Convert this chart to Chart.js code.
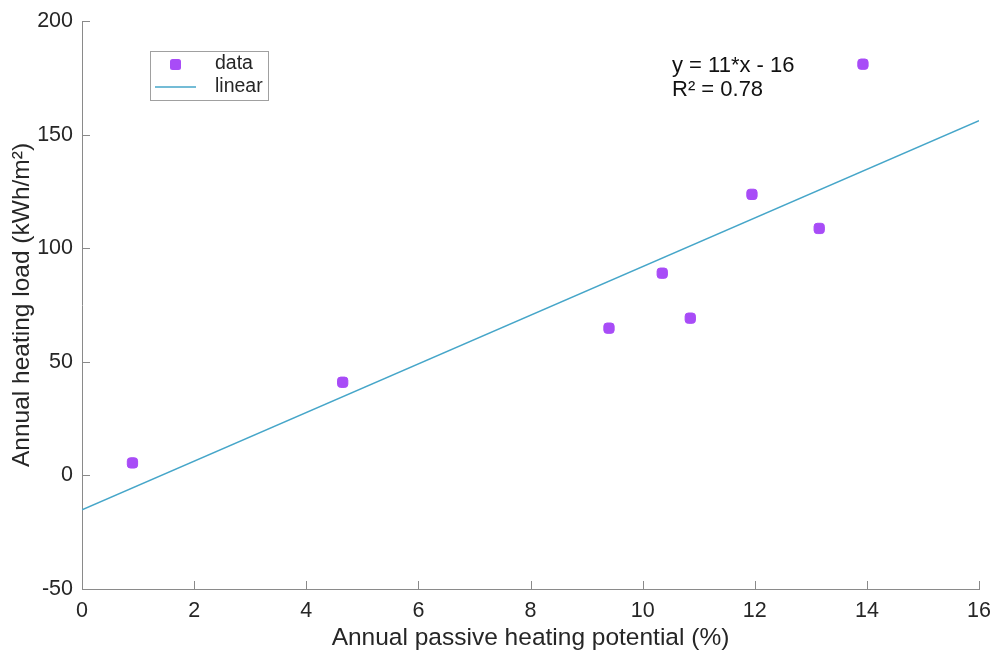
<!DOCTYPE html>
<html>
<head>
<meta charset="utf-8">
<script src="https://cdn.jsdelivr.net/npm/chart.js@4/dist/chart.umd.min.js"></script>
<style>
html,body{margin:0;padding:0;background:#fff;}
#wrap{width:995px;height:655px;}
</style>
</head>
<body>
<div id="wrap"><canvas id="c" width="995" height="655"></canvas></div>
<script>
// Data
const passiveX = [0.9, 4.65, 9.4, 10.35, 10.85, 11.95, 13.15, 13.93];
const heatingY = [5.5, 41, 64.8, 89, 69.2, 123.7, 108.7, 181];
const linearX = [0, 16];
const linearY = [-15.2, 156.1];
const xTickValues = [0, 2, 4, 6, 8, 10, 12, 14, 16];
const yTickValues = [-50, 0, 50, 100, 150, 200];
const fitLines = ['y = 11*x - 16', 'R\u00b2 = 0.78'];
const legendLabels = ['data', 'linear'];

const FONT = '"Liberation Sans", Arial, sans-serif';
const markerColor = '#a84cf7';
const lineColor = '#46a6c9';
const axisColor = '#8a8a8a';
const textColor = '#262626';

const scatterData = passiveX.map((x, i) => ({x: x, y: heatingY[i]}));
const lineData = linearX.map((x, i) => ({x: x, y: linearY[i]}));

const extras = {
  id: 'extras',
  afterDraw(chart) {
    const ctx = chart.ctx;
    const xs = chart.scales.x, ys = chart.scales.y;
    const area = chart.chartArea;
    ctx.save();
    // inward tick marks
    ctx.strokeStyle = axisColor;
    ctx.lineWidth = 1;
    ctx.beginPath();
    xTickValues.forEach(v => {
      const px = Math.round(xs.getPixelForValue(v)) + 0.5;
      ctx.moveTo(px, area.bottom); ctx.lineTo(px, area.bottom - 8);
    });
    yTickValues.forEach(v => {
      const py = Math.round(ys.getPixelForValue(v)) + 0.5;
      ctx.moveTo(area.left, py); ctx.lineTo(area.left + 8, py);
    });
    ctx.stroke();

    // legend box
    const lx = 150.5, ly = 51.5, lw = 118, lh = 49;
    ctx.fillStyle = '#fff';
    ctx.fillRect(lx, ly, lw, lh);
    ctx.strokeStyle = '#a0a0a0';
    ctx.strokeRect(lx, ly, lw, lh);
    ctx.fillStyle = markerColor;
    roundRect(ctx, 170, 59, 11, 11, 2.5); ctx.fill();
    ctx.strokeStyle = lineColor;
    ctx.lineWidth = 1.5;
    ctx.beginPath(); ctx.moveTo(155, 87); ctx.lineTo(196, 87); ctx.stroke();
    ctx.fillStyle = textColor;
    ctx.font = '19.5px ' + FONT;
    ctx.textBaseline = 'middle';
    ctx.textAlign = 'left';
    ctx.fillText(legendLabels[0], 215, 64);
    ctx.fillText(legendLabels[1], 215, 87);

    // fit annotation
    ctx.fillStyle = '#111';
    ctx.font = '22px ' + FONT;
    ctx.fillText(fitLines[0], 672, 66);
    ctx.fillText(fitLines[1], 672, 90);
    ctx.restore();
  }
};

function roundRect(ctx, x, y, w, h, r) {
  ctx.beginPath();
  ctx.moveTo(x + r, y);
  ctx.lineTo(x + w - r, y);
  ctx.quadraticCurveTo(x + w, y, x + w, y + r);
  ctx.lineTo(x + w, y + h - r);
  ctx.quadraticCurveTo(x + w, y + h, x + w - r, y + h);
  ctx.lineTo(x + r, y + h);
  ctx.quadraticCurveTo(x, y + h, x, y + h - r);
  ctx.lineTo(x, y + r);
  ctx.quadraticCurveTo(x, y, x + r, y);
  ctx.closePath();
}

new Chart(document.getElementById('c'), {
  type: 'scatter',
  data: {
    datasets: [
      {
        label: legendLabels[1],
        type: 'line',
        data: lineData,
        borderColor: lineColor,
        borderWidth: 1.5,
        pointRadius: 0,
        fill: false,
        order: 2
      },
      {
        label: legendLabels[0],
        data: scatterData,
        backgroundColor: markerColor,
        borderColor: markerColor,
        pointStyle: 'rectRounded',
        pointRadius: 6,
        pointHoverRadius: 6,
        order: 1
      }
    ]
  },
  options: {
    responsive: false,
    animation: false,
    layout: {padding: {left: 0, right: 16, top: 21, bottom: 0}},
    plugins: {legend: {display: false}, tooltip: {enabled: false}},
    scales: {
      x: {
        type: 'linear',
        min: 0, max: 16,
        afterBuildTicks: s => { s.ticks = xTickValues.map(v => ({value: v})); },
        afterFit: s => { s.height = 66; s.paddingLeft = 0; s.paddingRight = 0; },
        grid: {display: false, drawTicks: false},
        border: {display: true, color: axisColor, width: 1},
        ticks: {color: textColor, font: {size: 21.5, family: FONT}, padding: 9, maxRotation: 0},
        title: {display: true, text: 'Annual passive heating potential (%)', color: textColor,
                font: {size: 24.5, family: FONT}, padding: {top: 2, bottom: 2}}
      },
      y: {
        type: 'linear',
        min: -50, max: 200,
        afterBuildTicks: s => { s.ticks = yTickValues.map(v => ({value: v})); },
        afterFit: s => { s.width = 82; s.paddingTop = 0; s.paddingBottom = 0; },
        grid: {display: false, drawTicks: false},
        border: {display: true, color: axisColor, width: 1},
        ticks: {color: textColor, font: {size: 21.5, family: FONT}, padding: 9},
        title: {display: true, text: 'Annual heating load (kWh/m\u00b2)', color: textColor,
                font: {size: 24.5, family: FONT}, padding: {top: 8, bottom: 8}}
      }
    }
  },
  plugins: [extras]
});
</script>
</body>
</html>
